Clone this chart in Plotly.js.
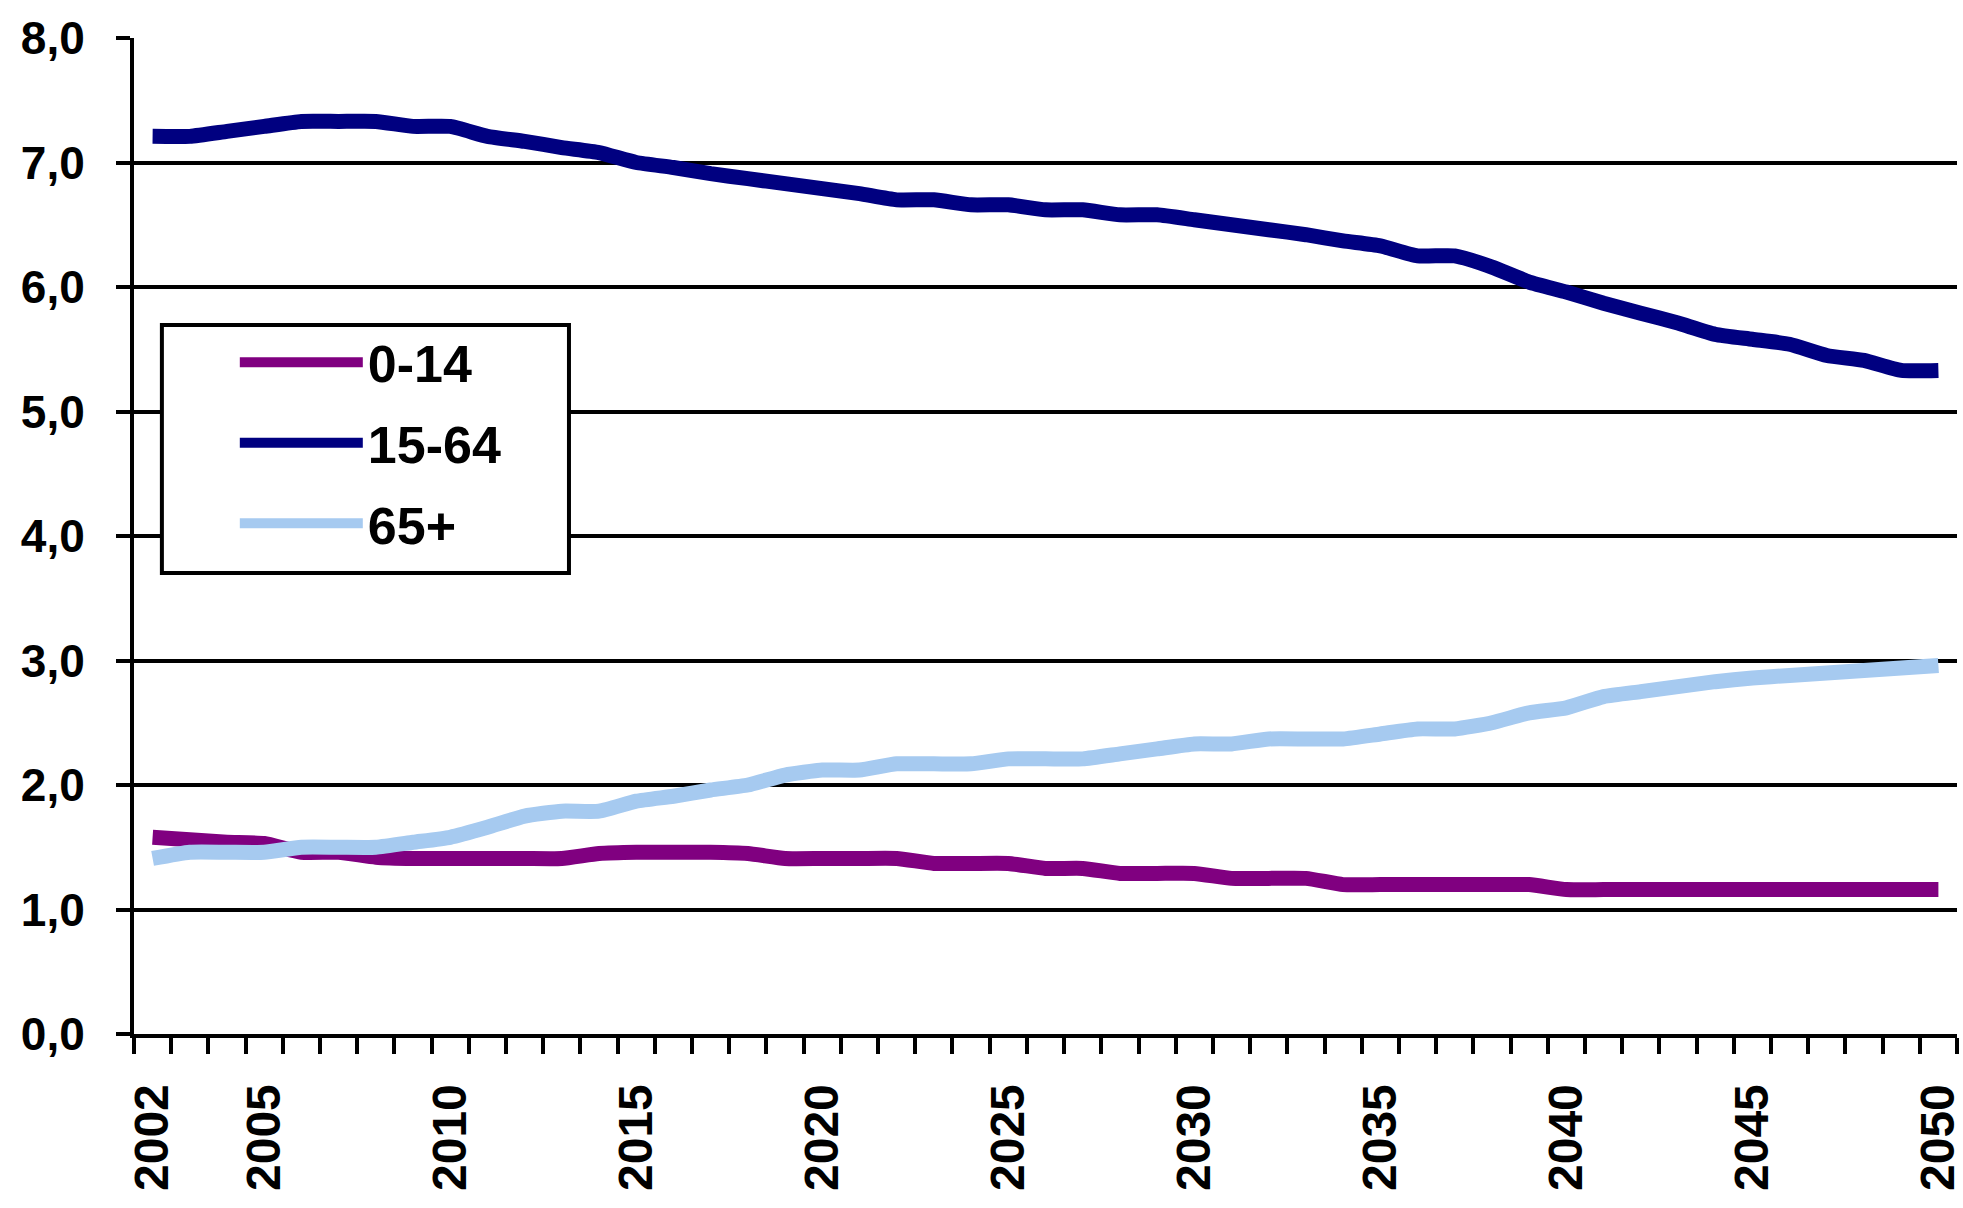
<!DOCTYPE html>
<html>
<head>
<meta charset="utf-8">
<script src="https://cdn.plot.ly/plotly-3.0.1.min.js"></script>
<style>html,body{margin:0;padding:0;background:#fff;}#chart{width:1963px;height:1208px;}</style>
</head>
<body>
<div id="chart"></div>
<script>
const years = [2002,2003,2004,2005,2006,2007,2008,2009,2010,2011,2012,2013,2014,2015,2016,2017,2018,2019,2020,2021,2022,2023,2024,2025,2026,2027,2028,2029,2030,2031,2032,2033,2034,2035,2036,2037,2038,2039,2040,2041,2042,2043,2044,2045,2046,2047,2048,2049,2050];
const labelYears = [2002,2005,2010,2015,2020,2025,2030,2035,2040,2045,2050];
const seriesNames = ["0-14","15-64","65+"];
const age0_14 = [1.58,1.56,1.54,1.53,1.46,1.46,1.42,1.41,1.41,1.41,1.41,1.41,1.45,1.46,1.46,1.46,1.45,1.41,1.41,1.41,1.41,1.37,1.37,1.37,1.33,1.33,1.29,1.29,1.29,1.25,1.25,1.25,1.20,1.20,1.20,1.20,1.20,1.20,1.16,1.16,1.16,1.16,1.16,1.16,1.16,1.16,1.16,1.16,1.16];
const age15_64 = [7.21,7.21,7.25,7.29,7.33,7.33,7.33,7.29,7.29,7.21,7.17,7.12,7.08,7.00,6.96,6.91,6.87,6.83,6.79,6.75,6.70,6.70,6.66,6.66,6.62,6.62,6.58,6.58,6.54,6.50,6.46,6.42,6.37,6.33,6.25,6.25,6.16,6.04,5.96,5.87,5.79,5.71,5.62,5.58,5.54,5.45,5.41,5.33,5.33];
const age65 = [1.41,1.46,1.46,1.46,1.50,1.50,1.50,1.54,1.58,1.66,1.75,1.79,1.79,1.87,1.91,1.96,2.00,2.08,2.12,2.12,2.17,2.17,2.17,2.21,2.21,2.21,2.25,2.29,2.33,2.33,2.37,2.37,2.37,2.41,2.45,2.45,2.50,2.58,2.62,2.71,2.75,2.79,2.83,2.86,2.88,2.90,2.92,2.94,2.96];
const colors = ["#800080","#000080","#A6CAF0"];

const boldFont = "Liberation Sans, Arial, sans-serif";

const allSeries = [age0_14, age15_64, age65];
const traces = allSeries.map((vals, i) => ({
  type: "scatter",
  mode: "lines",
  x: years,
  y: vals,
  name: seriesNames[i],
  legendgroup: "g" + i,
  line: {color: colors[i], width: 15, shape: "spline", smoothing: 0.5},
  hoverinfo: "skip"
}));

const layout = {
  width: 1963,
  height: 1208,
  paper_bgcolor: "#ffffff",
  plot_bgcolor: "#ffffff",
  margin: {l: 134, r: 6, t: 38, b: 174, pad: 0},
  separators: ", ",
  showlegend: true,
  xaxis: {
    range: [2001.5, 2050.5],
    tickmode: "array",
    tickvals: labelYears,
    ticktext: labelYears.map(String),
    tickangle: -90,
    ticks: "",
    showline: true,
    linecolor: "#000000",
    linewidth: 4,
    showgrid: false,
    zeroline: false,
    ticklabelstandoff: 27,
    ticklabeloverflow: "allow",
    tickfont: {family: boldFont, size: 48, weight: "bold", color: "#000000"},
    minor: {tickmode: "linear", tick0: 2001.5, dtick: 1, ticks: "outside", ticklen: 16, tickwidth: 4, tickcolor: "#000000", showgrid: false}
  },
  yaxis: {
    range: [0, 8],
    tickmode: "linear",
    tick0: 0,
    dtick: 1,
    tickformat: ".1f",
    ticks: "outside",
    ticklen: 14,
    tickwidth: 4,
    tickcolor: "#000000",
    showline: true,
    linecolor: "#000000",
    linewidth: 4,
    showgrid: true,
    gridcolor: "#000000",
    gridwidth: 4,
    zeroline: false,
    ticklabelstandoff: 22,
    ticklabeloverflow: "allow",
    tickfont: {family: boldFont, size: 46, weight: "bold", color: "#000000"}
  },
  legend: {
    x: 0.0553,
    y: 0.715,
    xanchor: "left",
    yanchor: "top",
    bgcolor: "rgba(0,0,0,0)",
    borderwidth: 0,
    itemwidth: 123,
    tracegroupgap: 10,
    traceorder: "grouped",
    font: {family: boldFont, size: 52, weight: "bold", color: "#000000"}
  },
  shapes: [{
    type: "rect",
    xref: "paper", yref: "paper",
    x0: 0.0153, x1: 0.2386, y0: 0.4629, y1: 0.7118,
    fillcolor: "#ffffff",
    line: {color: "#000000", width: 4},
    layer: "above"
  }]
};

Plotly.newPlot("chart", traces, layout, {displayModeBar: false, staticPlot: true});
</script>
</body>
</html>
